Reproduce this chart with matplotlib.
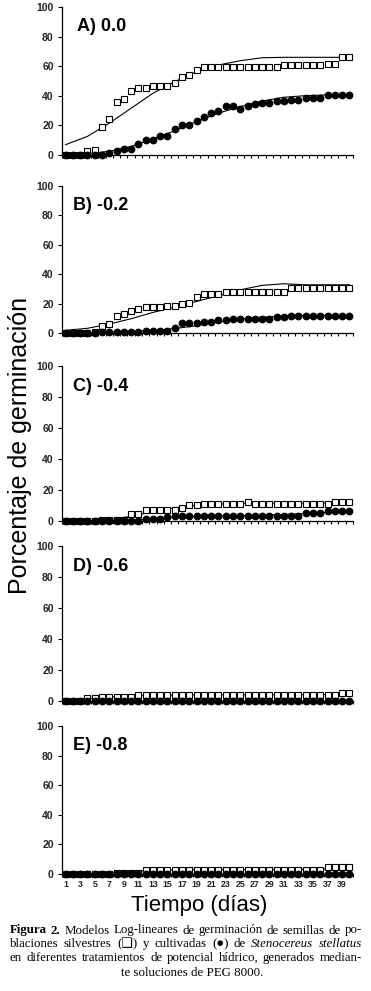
import numpy as np
import matplotlib.pyplot as plt

plt.rcParams['font.family'] = ['Liberation Sans', 'DejaVu Sans']

days = np.arange(1, 41)

# observed germination (%) - silvestres (open squares), cultivadas (filled circles)
silv_a = [0, 0, 0, 3, 3.5, 18.6, 24, 36, 37.7, 43, 45.5, 45.5, 46.6, 46.6, 46.6, 48.6,
          52.7, 53.8, 57.6] + [59.6] * 11 + [60.8] * 6 + [61.7, 61.7, 66, 66]
cult_a = [0] * 6 + [1.3, 3, 4.3, 4.3, 7.4, 9.9, 9.9, 13, 13, 17.5, 20, 20, 23, 26, 28.5,
                    29.4, 33.2, 33.2, 31.2, 33.2, 34.3, 35.4, 35.4, 36.3, 36.3, 37.4, 37.4,
                    38.3, 38.3, 38.3] + [40.4] * 4

silv_b = [0] * 4 + [0.7, 4.5, 6, 11.8, 13, 15, 16.3] + [17.6] * 3 + [18.6] * 2 + \
         [19.5, 20.6, 24.4] + [26.5] * 3 + [27.6] * 9 + [30.5] * 9
cult_b = [0] * 5 + [0.7] * 6 + [1.6] * 4 + [3.4] + [6.6] * 3 + [7.5] * 2 + [8.6] * 2 + \
         [9.5] * 6 + [10.6] * 2 + [11.8] * 9

silv_c = [0] * 5 + [0.9] * 4 + [4.3] * 2 + [6.9] * 5 + [8.6] + [10.1] * 2 + [11.2] * 6 + \
         [12.3] + [11.2] * 11 + [12.3] * 3
cult_c = [0] * 11 + [1.1] * 3 + [2.6] + [3.2] * 18 + [5.2] * 3 + [6.2] * 4

silv_d = [0] * 3 + [1.7] * 2 + [2.4] * 5 + [3.9] * 28 + [4.9] * 2
cult_d = [0] * 40

silv_e = [0] * 7 + [0.9] * 4 + [2.7] * 25 + [4.5] * 4
cult_e = [0] * 40

# log-linear model curves, read at every third day
fit_days = [1, 4, 7, 10, 13, 16, 19, 22, 25, 28, 31, 34, 37, 40]
fit_silv_a = [7.0, 12.6, 21.5, 31.6, 41.7, 49.6, 56.3, 60.8, 63.7, 65.7, 66, 66, 66, 66]
fit_cult_a = [0, 1, 2.5, 5.8, 10.8, 16.4, 22.6, 28.3, 32.7, 36.5, 39, 40.1, 40.6, 40.6]
fit_silv_b = [1.8, 3.2, 6.1, 9.7, 14, 17.6, 21.5, 25.3, 29.4, 32.4, 33.5, 32.8, 32.8, 32.8]
fit_cult_b = [0, 0.3, 0.7, 1, 1.8, 3, 5, 7.5, 9.5, 10.8, 11.5, 12, 12, 12]
fit_silv_c = [0, 0.3, 1, 3, 6, 8.5, 10.3, 11, 11.3, 11.5, 11.5, 11.5, 11.5, 11.5]
fit_cult_c = [0, 0, 0.2, 0.8, 1.5, 2.5, 3, 3.2, 3.5, 3.8, 4.2, 4.8, 5.5, 6]
fit_silv_d = [0.5, 1.5, 2.5, 3.2, 3.7, 3.9, 4, 4, 4, 4, 4, 4.1, 4.2, 4.2]
fit_cult_d = [0] * 14
fit_silv_e = [0, 0.3, 1, 1.8, 2.5, 2.8, 3, 3, 3, 3, 3, 3.1, 3.3, 3.5]
fit_cult_e = [0] * 14

panel_labels = ['A) 0.0', 'B) -0.2', 'C) -0.4', 'D) -0.6', 'E) -0.8']
silv = [silv_a, silv_b, silv_c, silv_d, silv_e]
cult = [cult_a, cult_b, cult_c, cult_d, cult_e]
fit_silv = [fit_silv_a, fit_silv_b, fit_silv_c, fit_silv_d, fit_silv_e]
fit_cult = [fit_cult_a, fit_cult_b, fit_cult_c, fit_cult_d, fit_cult_e]

W, H = 371, 991
fig = plt.figure(figsize=(W / 100, H / 100), dpi=100)

# axes extents in pixels (top, bottom)
rows = [(7, 155), (186, 333), (366, 521), (546, 701), (726, 874)]
left_px, right_px = 62, 353

for i, (top, bot) in enumerate(rows):
    ax = fig.add_axes([left_px / W, 1 - bot / H, (right_px - left_px) / W, (bot - top) / H])
    ax.plot(fit_days, fit_silv[i], color='black', lw=0.8, zorder=2)
    ax.plot(fit_days, fit_cult[i], color='black', lw=0.8, zorder=2)
    ax.plot(days, silv[i], 's', ms=4.6, mfc='white', mec='black', mew=0.8,
            clip_on=False, zorder=3)
    ax.plot(days, cult[i], 'o', ms=4.6, mfc='black', mec='black',
            clip_on=False, zorder=4)

    ax.set_xlim(0.5, 40.5)
    ax.set_ylim(0, 100)
    ax.set_yticks(range(0, 101, 20))
    ax.set_xticks(np.arange(0.5, 41, 1))
    ax.set_xticklabels([])
    ax.tick_params(axis='y', direction='out', length=3, width=0.8, pad=3,
                   labelsize=7.5)
    ax.tick_params(axis='x', direction='out', length=2.5, width=0.8)
    for lab in ax.get_yticklabels():
        lab.set_fontweight('bold')
        lab.set_color('#222222')
    for s in ['top', 'right']:
        ax.spines[s].set_visible(False)
    for s in ['left', 'bottom']:
        ax.spines[s].set_linewidth(0.9)

    lx = 0.052 if i == 0 else 0.038
    ax.text(lx, 0.865, panel_labels[i], transform=ax.transAxes,
            fontsize=13, fontweight='bold', va='center', ha='left')

    if i == 4:
        ax.set_xticks(days[::2], minor=True)
        ax.set_xticklabels([str(d) for d in days[::2]], minor=True)
        ax.tick_params(axis='x', which='minor', length=0, pad=4.3, labelsize=6.3)
        for lab in ax.get_xticklabels(minor=True):
            lab.set_fontweight('bold')
            lab.set_color('#222222')

fig.text(20 / W, 1 - 445 / H, 'Porcentaje de germinación', rotation=90,
         fontsize=18, ha='center', va='center')
fig.text(199 / W, 1 - 905 / H, 'Tiempo (días)', fontsize=16,
         ha='center', va='center')

# caption, justified word by word
serif = ['Liberation Serif', 'DejaVu Serif', 'DejaVu Sans']
cap_lines = [
    [('Figura', 'bold'), ('2.', 'bold'), ('Modelos', ''), ('Log-lineares', ''), ('de', ''),
     ('germinación', ''), ('de', ''), ('semillas', ''), ('de', ''), ('po-', '')],
    [('blaciones', ''), ('silvestres', ''), ('(❑)', ''), ('y', ''), ('cultivadas', ''),
     ('(●)', ''), ('de', ''), ('Stenocereus', 'italic'), ('stellatus', 'italic')],
    [('en', ''), ('diferentes', ''), ('tratamientos', ''), ('de', ''), ('potencial', ''),
     ('hídrico,', ''), ('generados', ''), ('median-', '')],
]
last_line = 'te soluciones de PEG 8000.'
cap_y = [930.5, 944, 958]
x0, x1 = 10, 362

fig.canvas.draw()
renderer = fig.canvas.get_renderer()


def word_texts(words, yc, size):
    out = []
    for w, st in words:
        out.append(fig.text(0, 1 - yc / H, w, fontsize=size, family=serif, va='center',
                            fontweight='bold' if st == 'bold' else 'normal',
                            fontstyle='italic' if st == 'italic' else 'normal'))
    return out


# pick the size where the widest line, with plain spaces, just fills the column
probe = 10.0
sp = fig.text(0, 0, 'a a', fontsize=probe, family=serif)
sa = fig.text(0, 0, 'aa', fontsize=probe, family=serif)
space_w = sp.get_window_extent(renderer).width - sa.get_window_extent(renderer).width
sp.remove()
sa.remove()
natural = []
for words in cap_lines:
    ts = word_texts(words, 0, probe)
    natural.append(sum(t.get_window_extent(renderer).width for t in ts)
                   + space_w * (len(ts) - 1))
    for t in ts:
        t.remove()
cap_size = probe * (x1 - x0) / max(natural) * 0.985

for words, yc in zip(cap_lines, cap_y):
    texts = word_texts(words, yc, cap_size)
    widths = [t.get_window_extent(renderer).width for t in texts]
    gap = (x1 - x0 - sum(widths)) / (len(texts) - 1)
    x = x0
    for t, w in zip(texts, widths):
        t.set_x(x / W)
        x += w + gap

fig.text(192 / W, 1 - 973 / H, last_line, fontsize=cap_size,
         family=serif, ha='center', va='center')

fig.savefig('out.png', dpi=100)
